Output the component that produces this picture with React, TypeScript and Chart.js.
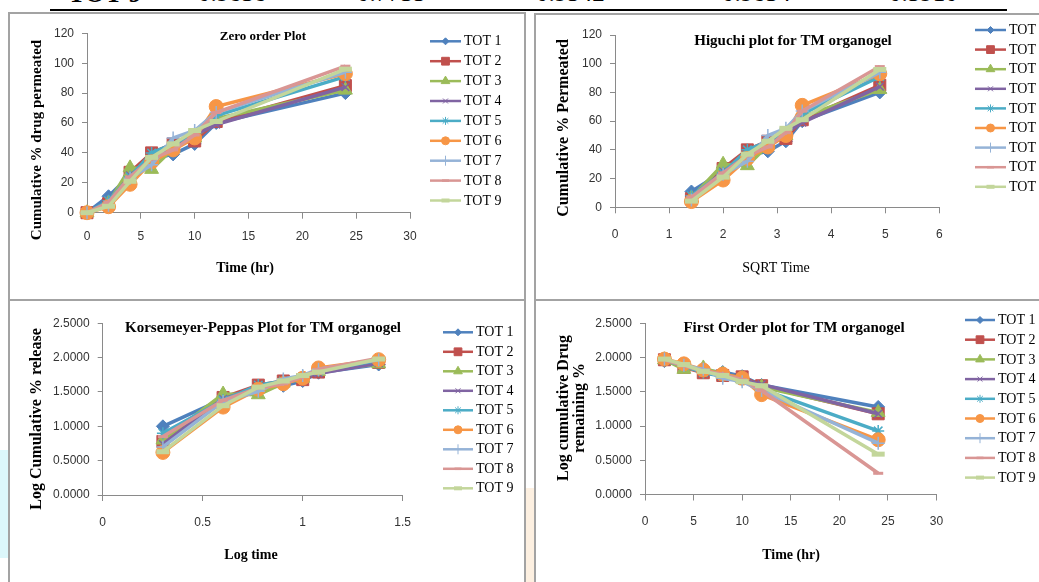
import React, { useEffect, useRef } from 'react';
import { Chart, registerables } from 'chart.js';
import { drawPoint } from 'chart.js/helpers';

Chart.register(...registerables);

// ---------- data ----------
const seriesNames = ['TOT 1', 'TOT 2', 'TOT 3', 'TOT 4', 'TOT 5', 'TOT 6', 'TOT 7', 'TOT 8', 'TOT 9'];

const zeroTime = [0, 2, 4, 6, 8, 10, 12, 24];
const zeroOrder = [
  [0, 11, 25, 36, 39, 46, 60, 80],
  [0, 6, 27, 40, 46, 48, 61, 85],
  [0, 6.5, 30, 29, 43, 50, 63, 82],
  [0, 5.5, 25, 36, 43, 52, 59, 84],
  [0, 8, 24, 40, 46, 53, 65, 91],
  [0, 4, 19, 34, 42, 50, 71, 93],
  [0, 5, 23, 32, 50, 55, 67, 94],
  [0, 7, 24, 36, 42, 52, 67, 98],
  [0, 4.3, 21, 37, 46, 55, 61, 96],
];

const sqrtTime = [1.414, 2.0, 2.449, 2.828, 3.162, 3.464, 4.899];
const higuchi = zeroOrder.map((row) => row.slice(1));

const logTime = [0.301, 0.602, 0.778, 0.903, 1.0, 1.079, 1.38];
const peppas = [
  [1.0, 1.4, 1.56, 1.59, 1.66, 1.78, 1.9],
  [0.78, 1.42, 1.6, 1.66, 1.68, 1.79, 1.93],
  [0.8, 1.47, 1.46, 1.63, 1.7, 1.8, 1.91],
  [0.74, 1.4, 1.56, 1.63, 1.72, 1.77, 1.92],
  [0.9, 1.38, 1.6, 1.66, 1.72, 1.81, 1.96],
  [0.62, 1.28, 1.54, 1.62, 1.7, 1.85, 1.97],
  [0.7, 1.36, 1.51, 1.69, 1.74, 1.83, 1.97],
  [0.85, 1.38, 1.56, 1.62, 1.72, 1.83, 1.99],
  [0.63, 1.3, 1.57, 1.66, 1.74, 1.79, 1.98],
];

const firstTime = [2, 4, 6, 8, 10, 12, 24];
const firstOrder = [
  [1.95, 1.88, 1.81, 1.79, 1.73, 1.6, 1.28],
  [1.97, 1.86, 1.78, 1.74, 1.72, 1.59, 1.18],
  [1.97, 1.83, 1.85, 1.76, 1.7, 1.57, 1.2],
  [1.98, 1.88, 1.81, 1.76, 1.68, 1.61, 1.18],
  [1.96, 1.88, 1.78, 1.73, 1.67, 1.54, 0.93],
  [1.98, 1.91, 1.82, 1.76, 1.7, 1.46, 0.8],
  [1.98, 1.89, 1.83, 1.7, 1.65, 1.52, 0.75],
  [1.97, 1.88, 1.81, 1.76, 1.68, 1.52, 0.31],
  [1.98, 1.9, 1.8, 1.74, 1.65, 1.59, 0.59],
];

const tableRowLabel = 'TOT 9';
const tableRowValues = ['0.9838', '0.7735', '0.9542', '0.9834', '0.5910'];

// ---------- styles ----------
const seriesColors = ['#4F81BD', '#C0504D', '#9BBB59', '#8064A2', '#4BACC6', '#F79646', '#95B3D7', '#D99694', '#C3D69B'];
const markerStyles = ['rectRot', 'rect', 'triangle', 'crossRot', 'star', 'circle', 'cross', 'line', 'line'];
const markerRadius = [6.5, 8.5, 8, 5.5, 6, 7, 6.5, 5, 6.5];
const markerBorder = [1, 1, 1, 1.5, 1.5, 1, 1.5, 3, 5];
const legendRadius = [3.5, 5.5, 5, 3.5, 4, 4, 5, 3.5, 4];
const legendBorder = [1, 1, 1, 1, 1, 1, 1, 2.5, 4];

const SERIF = '"Liberation Serif", "Times New Roman", serif';
const SANS = '"Liberation Sans", Arial, sans-serif';
const AXIS_GRAY = '#8a8a8a';
const W = 1039;
const H = 582;

const panelTextPlugin = {
  id: 'panelText',
  afterDraw(chart: any, _args: any, opts: any) {
    const ctx = chart.ctx as CanvasRenderingContext2D;
    ctx.save();
    ctx.fillStyle = '#000';
    ctx.textAlign = 'center';
    ctx.textBaseline = 'middle';
    ctx.font = opts.titleFont;
    ctx.fillText(opts.title, opts.titleX, opts.titleY);
    ctx.font = opts.xTitleFont;
    ctx.fillText(opts.xTitle, opts.xTitleX, opts.xTitleY);
    ctx.font = opts.yTitleFont;
    const lines: string[] = opts.yTitle;
    lines.forEach((line: string, k: number) => {
      ctx.save();
      ctx.translate(opts.yTitleXs[k], opts.yTitleY);
      ctx.rotate(-Math.PI / 2);
      ctx.fillText(line, 0, 0);
      ctx.restore();
    });
    chart.data.datasets.forEach((ds: any, i: number) => {
      const y = opts.legY0 + i * opts.legDy;
      const c = ds.borderColor;
      ctx.strokeStyle = c;
      ctx.lineWidth = 2.5;
      ctx.beginPath();
      ctx.moveTo(opts.legX0, y);
      ctx.lineTo(opts.legX1, y);
      ctx.stroke();
      ctx.fillStyle = c;
      ctx.lineWidth = legendBorder[i];
      drawPoint(ctx, { pointStyle: ds.pointStyle, radius: legendRadius[i], borderWidth: legendBorder[i], rotation: 0 } as any, (opts.legX0 + opts.legX1) / 2, y);
      ctx.fillStyle = '#000';
      ctx.font = `14px ${SERIF}`;
      ctx.textAlign = 'left';
      ctx.fillText(ds.label, opts.legTextX, y + 0.5);
      ctx.textAlign = 'center';
    });
    ctx.restore();
  },
};

type Panel = {
  xs: number[];
  ys: number[][];
  area: { left: number; right: number; top: number; bottom: number };
  xMin: number; xMax: number; xStep: number;
  yMin: number; yMax: number; yStep: number;
  yDecimals: number;
  xPad: number;
  text: any;
};

function makeConfig(p: Panel): any {
  const YW = 50;
  const XH = 40;
  return {
    type: 'line',
    data: {
      datasets: p.ys.map((row, i) => ({
        label: seriesNames[i],
        data: row.map((v, j) => ({ x: p.xs[j], y: v })),
        borderColor: seriesColors[i],
        backgroundColor: seriesColors[i],
        borderWidth: 3.5,
        pointStyle: markerStyles[i],
        pointRadius: markerRadius[i],
        pointBorderWidth: markerBorder[i],
        pointBackgroundColor: seriesColors[i],
        pointBorderColor: seriesColors[i],
        tension: 0,
        clip: false,
        order: 9 - i,
      })),
    },
    options: {
      animation: false,
      responsive: false,
      events: [],
      layout: {
        padding: {
          left: p.area.left - YW,
          right: W - p.area.right,
          top: p.area.top,
          bottom: H - p.area.bottom - XH,
        },
      },
      plugins: {
        legend: { display: false },
        tooltip: { enabled: false },
        title: { display: false },
        panelText: p.text,
      },
      scales: {
        x: {
          type: 'linear',
          min: p.xMin,
          max: p.xMax,
          ticks: {
            stepSize: p.xStep,
            padding: p.xPad,
            color: '#333',
            font: { family: SANS, size: 12 },
            maxRotation: 0,
            callback: (v: any) => String(Number(v)),
          },
          grid: { display: true, drawOnChartArea: false, drawTicks: true, tickLength: 6, color: AXIS_GRAY },
          border: { display: true, color: AXIS_GRAY, width: 1 },
          afterFit: (s: any) => { s.height = XH; },
        },
        y: {
          type: 'linear',
          min: p.yMin,
          max: p.yMax,
          ticks: {
            stepSize: p.yStep,
            padding: 8,
            color: '#333',
            font: { family: SANS, size: 12 },
            callback: (v: any) => Number(v).toFixed(p.yDecimals),
          },
          grid: { display: true, drawOnChartArea: false, drawTicks: true, tickLength: 5, color: AXIS_GRAY },
          border: { display: true, color: AXIS_GRAY, width: 1 },
          afterFit: (s: any) => { s.width = YW; },
        },
      },
    },
    plugins: [panelTextPlugin],
  };
}

const panels: Panel[] = [
  {
    xs: zeroTime, ys: zeroOrder,
    area: { left: 87, right: 410, top: 33.3, bottom: 212.7 },
    xMin: 0, xMax: 30, xStep: 5, yMin: 0, yMax: 120, yStep: 20, yDecimals: 0, xPad: 11,
    text: {
      title: 'Zero order Plot', titleFont: `bold 13px ${SERIF}`, titleX: 263, titleY: 37,
      xTitle: 'Time (hr)', xTitleFont: `bold 14px ${SERIF}`, xTitleX: 245, xTitleY: 268,
      yTitle: ['Cumulative % drug permeated'], yTitleFont: `bold 15px ${SERIF}`, yTitleXs: [37], yTitleY: 140,
      legX0: 430, legX1: 461, legTextX: 464, legY0: 41.3, legDy: 19.9,
    },
  },
  {
    xs: sqrtTime, ys: higuchi,
    area: { left: 615, right: 939.3, top: 35, bottom: 207.3 },
    xMin: 0, xMax: 6, xStep: 1, yMin: 0, yMax: 120, yStep: 20, yDecimals: 0, xPad: 14,
    text: {
      title: 'Higuchi plot for TM organogel', titleFont: `bold 15px ${SERIF}`, titleX: 793, titleY: 41,
      xTitle: 'SQRT Time', xTitleFont: `14px ${SERIF}`, xTitleX: 776, xTitleY: 268,
      yTitle: ['Cumulative % Permeated'], yTitleFont: `bold 16px ${SERIF}`, yTitleXs: [564], yTitleY: 128,
      legX0: 975, legX1: 1006, legTextX: 1009, legY0: 30, legDy: 19.6,
    },
  },
  {
    xs: logTime, ys: peppas,
    area: { left: 102.7, right: 402.7, top: 323.3, bottom: 495 },
    xMin: 0, xMax: 1.5, xStep: 0.5, yMin: 0, yMax: 2.5, yStep: 0.5, yDecimals: 4, xPad: 14,
    text: {
      title: 'Korsemeyer-Peppas Plot for TM organogel', titleFont: `bold 15px ${SERIF}`, titleX: 263, titleY: 328,
      xTitle: 'Log time', xTitleFont: `bold 14px ${SERIF}`, xTitleX: 251, xTitleY: 555,
      yTitle: ['Log Cumulative % release'], yTitleFont: `bold 16px ${SERIF}`, yTitleXs: [37], yTitleY: 419,
      legX0: 443, legX1: 473, legTextX: 476, legY0: 332.3, legDy: 19.5,
    },
  },
  {
    xs: firstTime, ys: firstOrder,
    area: { left: 645, right: 936.5, top: 323.5, bottom: 494.5 },
    xMin: 0, xMax: 30, xStep: 5, yMin: 0, yMax: 2.5, yStep: 0.5, yDecimals: 4, xPad: 14,
    text: {
      title: 'First Order plot for TM organogel', titleFont: `bold 15px ${SERIF}`, titleX: 794, titleY: 328,
      xTitle: 'Time (hr)', xTitleFont: `bold 14px ${SERIF}`, xTitleX: 791, xTitleY: 555,
      yTitle: ['Log cumulative Drug', 'remaining %'], yTitleFont: `bold 16px ${SERIF}`, yTitleXs: [564, 580], yTitleY: 408,
      legX0: 965, legX1: 995, legTextX: 998, legY0: 320, legDy: 19.7,
    },
  },
];

function PanelChart({ panel }: { panel: Panel }) {
  const ref = useRef<HTMLCanvasElement>(null);
  useEffect(() => {
    const chart = new Chart(ref.current as HTMLCanvasElement, makeConfig(panel));
    return () => chart.destroy();
  }, [panel]);
  return (
    <canvas
      ref={ref}
      width={W}
      height={H}
      style={{ position: 'absolute', left: 0, top: 0, width: W, height: H, pointerEvents: 'none' }}
    />
  );
}

const boxes = [
  { left: 8, top: 12, width: 518, height: 289 },
  { left: 534, top: 13, width: 520, height: 288 },
  { left: 8, top: 299, width: 518, height: 300 },
  { left: 534, top: 299, width: 520, height: 300 },
];

const valueLefts = [198, 357, 536, 722, 889];

export default function App() {
  return (
    <div style={{ position: 'fixed', left: 0, top: 0, width: W, height: H, overflow: 'hidden', background: '#fff' }}>
      <div style={{ position: 'absolute', left: 0, top: 450, width: 8, height: 108, background: '#dcf7fb' }} />
      <div style={{ position: 'absolute', left: 526, top: 488, width: 9, height: 94, background: '#fdf0e1' }} />
      <div style={{ position: 'absolute', left: 68, top: -19, font: `bold 26px/26px ${SERIF}`, color: '#000', whiteSpace: 'nowrap' }}>{tableRowLabel}</div>
      {tableRowValues.map((v, i) => (
        <div key={i} style={{ position: 'absolute', left: valueLefts[i], top: -20, font: `25px/26px ${SERIF}`, color: '#000', whiteSpace: 'nowrap' }}>{v}</div>
      ))}
      <div style={{ position: 'absolute', left: 50, top: 9, width: 957, height: 2, background: '#000' }} />
      {boxes.map((b, i) => (
        <div key={i} style={{ position: 'absolute', ...b, boxSizing: 'border-box', border: '2px solid #a3a3a3', background: 'transparent' }} />
      ))}
      {panels.map((p, i) => (
        <PanelChart key={i} panel={p} />
      ))}
    </div>
  );
}
